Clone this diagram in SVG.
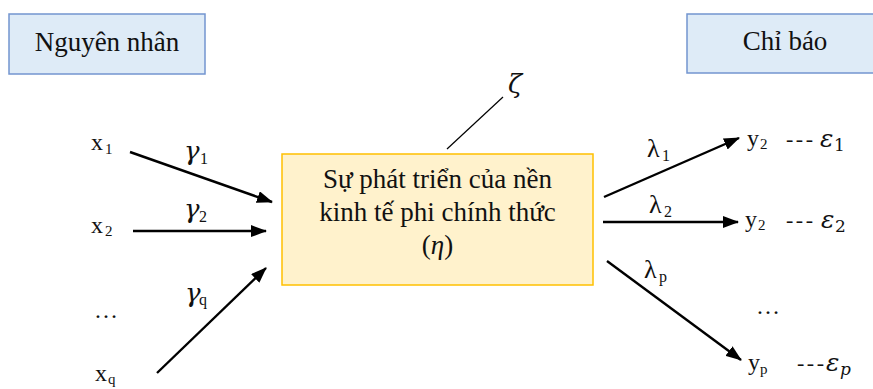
<svg xmlns="http://www.w3.org/2000/svg" width="873" height="389" viewBox="0 0 873 389">
  <style>
    text { font-family: "Liberation Serif", "Times New Roman", serif; fill: #111; }
    .title { font-size: 27px; text-anchor: middle; }
    .core { font-size: 27px; text-anchor: middle; }
    .var { font-size: 24px; }
    .sub { font-size: 15px; }
    .greek { font-size: 26px; font-style: italic; font-family: "DejaVu Serif", "Liberation Serif", serif; }
    .lam { font-size: 26px; }
    .gsub { font-size: 16px; }
    .eps { font-size: 25px; font-style: italic; font-family: "DejaVu Serif", "Liberation Serif", serif; }
    .esub { font-size: 17px; font-family: "DejaVu Serif", "Liberation Serif", serif; }
    .dash { font-size: 22px; }
    .arrow { stroke: #000; stroke-width: 2.4; fill: none; marker-end: url(#head); }
  </style>
  <defs>
    <marker id="head" markerUnits="userSpaceOnUse" markerWidth="16" markerHeight="12" refX="15" refY="6" orient="auto">
      <path d="M0,0 L16,6 L0,12 Z" fill="#000"/>
    </marker>
  </defs>

  <rect width="873" height="389" fill="#fff"/>

  <!-- category headers -->
  <g id="causes-header">
    <rect x="9" y="14" width="196" height="60" fill="#DEEBF7" stroke="#7395D0" stroke-width="1.5"/>
    <text class="title" x="107" y="51">Nguyên nhân</text>
  </g>
  <g id="indicators-header">
    <rect x="687" y="14" width="200" height="59" fill="#DEEBF7" stroke="#7395D0" stroke-width="1.5"/>
    <text class="title" x="785" y="50">Chỉ báo</text>
  </g>

  <!-- latent construct -->
  <g id="eta">
    <rect x="282" y="154" width="311" height="131" fill="#FFF2CC" stroke="#FFC000" stroke-width="1.5"/>
    <text class="core" x="437.5" y="188">Sự phát triển của nền</text>
    <text class="core" x="437.5" y="221">kinh tế phi chính thức</text>
    <text class="core" x="437.5" y="254">(<tspan font-style="italic">η</tspan>)</text>
  </g>

  <!-- disturbance term -->
  <g id="zeta">
    <text class="greek" x="508" y="93">ζ</text>
  </g>

  <!-- cause variables -->
  <g id="x1"><text class="var" x="91" y="150">x</text><text class="sub" x="105" y="154">1</text></g>
  <g id="x2"><text class="var" x="91" y="233">x</text><text class="sub" x="105" y="236">2</text></g>
  <g id="x-dots"><text class="var" x="94" y="318">…</text></g>
  <g id="xq"><text class="var" x="95" y="381">x</text><text class="sub" x="108" y="384">q</text></g>

  <!-- indicator variables -->
  <g id="y1">
    <text class="var" x="747" y="146">y</text><text class="sub" x="760" y="149">2</text>
    <text class="dash" x="786" y="146" textLength="27">---</text>
    <text class="eps" x="820" y="147">ε</text><text class="esub" x="834" y="151">1</text>
  </g>
  <g id="y2">
    <text class="var" x="745" y="227">y</text><text class="sub" x="758" y="230">2</text>
    <text class="dash" x="786" y="227" textLength="27">---</text>
    <text class="eps" x="821" y="228">ε</text><text class="esub" x="835" y="232">2</text>
  </g>
  <g id="y-dots"><text class="var" x="756" y="314">…</text></g>
  <g id="yp">
    <text class="var" x="748" y="370">y</text><text class="sub" x="760" y="374">p</text>
    <text class="dash" x="797" y="370" textLength="27">---</text>
    <text class="eps" x="826" y="371">ε</text><text class="esub" x="840" y="375" font-style="italic">p</text>
  </g>

  <!-- connectors and path coefficients -->
  <g id="connectors">
    <line x1="447" y1="149" x2="503" y2="97" stroke="#000" stroke-width="1.2"/>

    <line class="arrow" x1="130" y1="152" x2="272" y2="202"/>
    <line class="arrow" x1="133" y1="231" x2="266" y2="231"/>
    <line class="arrow" x1="157" y1="373" x2="266" y2="268"/>

    <line class="arrow" x1="604" y1="197" x2="739" y2="138"/>
    <line class="arrow" x1="603" y1="222" x2="738" y2="222"/>
    <line class="arrow" x1="607" y1="261" x2="741" y2="360"/>

    <text class="greek" x="184" y="160">γ</text><text class="gsub" x="200" y="164">1</text>
    <text class="greek" x="184" y="218">γ</text><text class="gsub" x="199" y="222">2</text>
    <text class="greek" x="185" y="302">γ</text><text class="gsub" x="199" y="305">q</text>

    <text class="lam" x="647" y="157">λ</text><text class="gsub" x="662" y="161">1</text>
    <text class="lam" x="649" y="213">λ</text><text class="gsub" x="664" y="217">2</text>
    <text class="lam" x="644" y="278">λ</text><text class="gsub" x="659" y="282">p</text>
  </g>
</svg>
